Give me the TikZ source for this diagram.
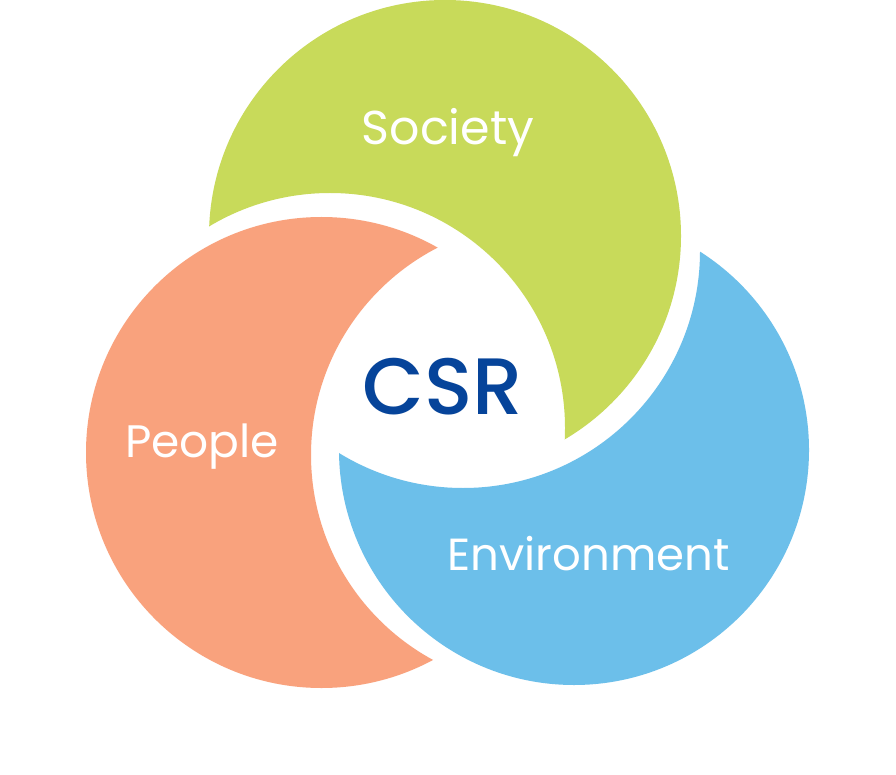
\documentclass[tikz,border=0pt]{standalone}
\usepackage{fontspec}
\setmainfont{Poppins}
\newfontfamily\csrfont{Poppins}[UprightFont={* Medium}]
\definecolor{socgreen}{HTML}{C8DA5A}
\definecolor{pplorange}{HTML}{F9A27D}
\definecolor{envblue}{HTML}{6CBFEA}
\definecolor{csrblue}{HTML}{06449A}
\begin{document}
\begin{tikzpicture}[x=1pt,y=-1pt,
  lbl/.style={inner sep=0pt, anchor=base, text=white},
  csrlbl/.style={inner sep=0pt, anchor=base, text=csrblue, font=\csrfont\fontsize{80}{80}\selectfont}]
\useasboundingbox (0,0) rectangle (896,775);
\fill[white] (0,0) rectangle (896,775);
% Society (green): circle minus shifted orange circle
\begin{scope}
  \clip (0,0) -- (896,0) -- (896,775) -- (0,775) -- cycle
    (565,428) arc[start angle=0, end angle=-360, radius=235];
  \fill[socgreen] (445,236) circle[radius=236];
\end{scope}
% People (orange): circle minus shifted blue circle
\begin{scope}
  \clip (0,0) -- (896,0) -- (896,775) -- (0,775) -- cycle
    (777,455) arc[start angle=0, end angle=-360, radius=233];
  \fill[pplorange] (321.5,452.5) circle[radius=235.5];
\end{scope}
% Environment (blue): circle minus shifted green circle
\begin{scope}
  \clip (0,0) -- (896,0) -- (896,775) -- (0,775) -- cycle
    (700,251) arc[start angle=0, end angle=-360, radius=237];
  \fill[envblue] (574,450) circle[radius=235];
\end{scope}
\node[lbl, font=\fontsize{47.5}{47.5}\selectfont] (society) at (448,145) {Society};
\node[lbl, font=\fontsize{45.5}{45.5}\selectfont] (people) at (202,457) {People};
\node[lbl, font=\fontsize{45}{45}\selectfont] (environment) at (588.5,570) {Environment};
\node[csrlbl] (csr) at (443,414) {CSR};
\end{tikzpicture}
\end{document}
